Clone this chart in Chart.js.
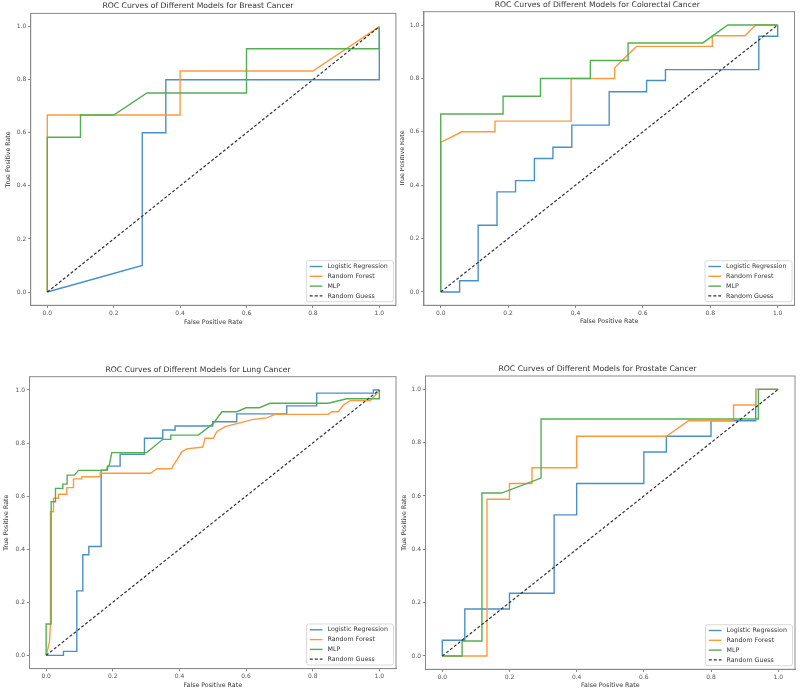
<!DOCTYPE html>
<html><head><meta charset="utf-8">
<script src="https://cdn.jsdelivr.net/npm/chart.js@4.4.1/dist/chart.umd.min.js"></script>
<style>
body{margin:0;background:#fff;}
#wrap{position:relative;width:800px;height:694px;background:#fff;overflow:hidden;}
canvas{position:absolute;}
</style></head><body>
<div id="wrap">
<canvas id="c0" width="400" height="347" style="left:0;top:0"></canvas>
<canvas id="c1" width="400" height="347" style="left:400px;top:0"></canvas>
<canvas id="c2" width="400" height="347" style="left:0;top:347px"></canvas>
<canvas id="c3" width="400" height="347" style="left:400px;top:347px"></canvas>
</div>
<script>
// ---------- data ----------
const tickValues = [0, 0.2, 0.4, 0.6, 0.8, 1.0];
const modelNames = ['Logistic Regression', 'Random Forest', 'MLP', 'Random Guess'];
const guessFpr = [0, 1];
const guessTpr = [0, 1];

// Breast Cancer
const breastLrFpr = [0, 0.286, 0.286, 0.357, 0.357, 1, 1];
const breastLrTpr = [0, 0.1, 0.6, 0.6, 0.8, 0.8, 1];
const breastRfFpr = [0, 0, 0.4, 0.4, 0.8, 1];
const breastRfTpr = [0, 0.667, 0.667, 0.833, 0.833, 1];
const breastMlpFpr = [0, 0, 0.1, 0.1, 0.2, 0.3, 0.6, 0.6, 1, 1];
const breastMlpTpr = [0, 0.583, 0.583, 0.667, 0.667, 0.75, 0.75, 0.917, 0.917, 1];

// Colorectal Cancer
const coloLrFpr = [0, 0.056, 0.056, 0.111, 0.111, 0.167, 0.167, 0.222, 0.222, 0.278, 0.278, 0.333, 0.333, 0.389, 0.389, 0.5, 0.5, 0.611, 0.611, 0.667, 0.667, 0.944, 0.944, 1, 1];
const coloLrTpr = [0, 0, 0.042, 0.042, 0.25, 0.25, 0.375, 0.375, 0.417, 0.417, 0.5, 0.5, 0.542, 0.542, 0.625, 0.625, 0.75, 0.75, 0.792, 0.792, 0.833, 0.833, 0.958, 0.958, 1];
const coloRfFpr = [0, 0, 0.0625, 0.161, 0.161, 0.387, 0.387, 0.516, 0.516, 0.581, 0.806, 0.806, 0.903, 0.935, 1];
const coloRfTpr = [0, 0.56, 0.6, 0.6, 0.64, 0.64, 0.8, 0.8, 0.84, 0.92, 0.92, 0.96, 0.96, 1, 1];
const coloMlpFpr = [0, 0, 0.185, 0.185, 0.296, 0.296, 0.444, 0.444, 0.556, 0.556, 0.778, 0.852, 1];
const coloMlpTpr = [0, 0.667, 0.667, 0.733, 0.733, 0.8, 0.8, 0.867, 0.867, 0.933, 0.933, 1, 1];

// Lung Cancer
const lungLrFpr = [0, 0.052, 0.052, 0.092, 0.092, 0.11, 0.11, 0.128, 0.128, 0.165, 0.165, 0.184, 0.184, 0.222, 0.222, 0.295, 0.295, 0.35, 0.35, 0.387, 0.387, 0.5, 0.5, 0.572, 0.572, 0.722, 0.722, 0.812, 0.812, 0.982, 0.982, 1];
const lungLrTpr = [0, 0, 0.015, 0.015, 0.243, 0.243, 0.379, 0.379, 0.41, 0.41, 0.698, 0.698, 0.713, 0.713, 0.758, 0.758, 0.818, 0.818, 0.849, 0.849, 0.864, 0.864, 0.88, 0.88, 0.91, 0.91, 0.94, 0.94, 0.988, 0.988, 1, 1];
const lungRfFpr = [0, 0.01, 0.013, 0.013, 0.022, 0.022, 0.037, 0.037, 0.062, 0.062, 0.082, 0.082, 0.107, 0.107, 0.162, 0.162, 0.314, 0.332, 0.377, 0.38, 0.392, 0.407, 0.422, 0.47, 0.472, 0.477, 0.502, 0.512, 0.537, 0.622, 0.662, 0.687, 0.847, 0.857, 0.877, 0.892, 0.912, 0.972, 0.985, 1];
const lungRfTpr = [0, 0.05, 0.12, 0.541, 0.541, 0.592, 0.592, 0.607, 0.607, 0.632, 0.632, 0.665, 0.665, 0.673, 0.673, 0.686, 0.686, 0.703, 0.703, 0.713, 0.736, 0.767, 0.778, 0.785, 0.793, 0.818, 0.818, 0.843, 0.862, 0.889, 0.895, 0.908, 0.908, 0.918, 0.918, 0.943, 0.96, 0.96, 0.975, 1];
const lungMlpFpr = [0, 0, 0.015, 0.015, 0.028, 0.028, 0.05, 0.05, 0.063, 0.063, 0.085, 0.097, 0.18, 0.19, 0.197, 0.302, 0.35, 0.374, 0.374, 0.457, 0.502, 0.527, 0.572, 0.6, 0.64, 0.672, 0.847, 0.902, 1, 1];
const lungMlpTpr = [0, 0.118, 0.118, 0.579, 0.579, 0.629, 0.629, 0.645, 0.645, 0.679, 0.679, 0.697, 0.697, 0.72, 0.764, 0.764, 0.814, 0.814, 0.83, 0.83, 0.874, 0.918, 0.918, 0.933, 0.933, 0.95, 0.95, 0.967, 0.967, 1];

// Prostate Cancer
const prosLrFpr = [0, 0, 0.067, 0.067, 0.2, 0.2, 0.333, 0.333, 0.4, 0.4, 0.6, 0.6, 0.667, 0.667, 0.8, 0.8, 0.933, 0.933, 1];
const prosLrTpr = [0, 0.059, 0.059, 0.176, 0.176, 0.235, 0.235, 0.529, 0.529, 0.647, 0.647, 0.765, 0.765, 0.824, 0.824, 0.882, 0.882, 1, 1];
const prosRfFpr = [0, 0.133, 0.133, 0.2, 0.2, 0.267, 0.267, 0.4, 0.4, 0.667, 0.733, 0.867, 0.867, 0.933, 0.933, 1];
const prosRfTpr = [0, 0, 0.588, 0.588, 0.647, 0.647, 0.706, 0.706, 0.824, 0.824, 0.882, 0.882, 0.941, 0.941, 1, 1];
const prosMlpFpr = [0, 0.059, 0.059, 0.118, 0.118, 0.176, 0.294, 0.294, 0.941, 0.941, 1];
const prosMlpTpr = [0, 0, 0.056, 0.056, 0.611, 0.611, 0.667, 0.889, 0.889, 1, 1];

const panelTitles = [
  'ROC Curves of Different Models for Breast Cancer',
  'ROC Curves of Different Models for Colorectal Cancer',
  'ROC Curves of Different Models for Lung Cancer',
  'ROC Curves of Different Models for Prostate Cancer'
];
const panelSeries = [
  [[breastLrFpr, breastLrTpr], [breastRfFpr, breastRfTpr], [breastMlpFpr, breastMlpTpr]],
  [[coloLrFpr, coloLrTpr], [coloRfFpr, coloRfTpr], [coloMlpFpr, coloMlpTpr]],
  [[lungLrFpr, lungLrTpr], [lungRfFpr, lungRfTpr], [lungMlpFpr, lungMlpTpr]],
  [[prosLrFpr, prosLrTpr], [prosRfFpr, prosRfTpr], [prosMlpFpr, prosMlpTpr]]
];

// ---------- layout / style ----------
const FONT = "'DejaVu Sans', 'Liberation Sans', sans-serif";
const COLORS = ['#4a90c8', '#ff9a3c', '#52b052'];
const GUESS_COLOR = '#333333';
const AXIS_COLOR = '#8a8a8a';
const W = 400, H = 347;
const layouts = [
  {cx: 0,   cy: 0,   area: [30.7, 13.4, 395.9, 305.3], titleY: 6,     xTitleY: 322,   yTitleX: 8.3},
  {cx: 400, cy: 0,   area: [423.9, 11.7, 794.5, 305.3], titleY: 5,    xTitleY: 321.7, yTitleX: 402.7},
  {cx: 0,   cy: 347, area: [29.5, 376.7, 396, 668.6],  titleY: 370,   xTitleY: 685,   yTitleX: 6.7},
  {cx: 400, cy: 347, area: [425.5, 376, 795, 669.3],   titleY: 369.3, xTitleY: 685.7, yTitleX: 404}
];

function toPoints(xs, ys) { return xs.map((x, i) => ({x: x, y: ys[i]})); }

const boxPlugin = {
  id: 'axesBox',
  afterDatasetsDraw(chart) {
    const {ctx, chartArea: a} = chart;
    ctx.save();
    ctx.strokeStyle = AXIS_COLOR;
    ctx.lineWidth = 1;
    ctx.strokeRect(a.left, a.top, a.right - a.left, a.bottom - a.top);
    ctx.restore();
  }
};

const legendPlugin = {
  id: 'insideLegend',
  afterDraw(chart) {
    const {ctx, chartArea: a} = chart;
    const w = 87, h = 41;
    const x = a.right - 2.5 - w, y = a.bottom - 3.6 - h;
    ctx.save();
    ctx.beginPath();
    if (ctx.roundRect) ctx.roundRect(x, y, w, h, 2); else ctx.rect(x, y, w, h);
    ctx.fillStyle = 'rgba(255,255,255,0.85)';
    ctx.fill();
    ctx.strokeStyle = '#d0d0d0';
    ctx.lineWidth = 0.8;
    ctx.stroke();
    ctx.font = '6.3px ' + FONT;
    ctx.textBaseline = 'middle';
    chart.data.datasets.forEach((ds, i) => {
      const cy = y + 5.8 + i * 9.8;
      ctx.beginPath();
      ctx.setLineDash(ds.borderDash || []);
      ctx.strokeStyle = ds.borderColor;
      ctx.lineWidth = ds.borderWidth;
      ctx.moveTo(x + 3.3, cy);
      ctx.lineTo(x + 16, cy);
      ctx.stroke();
      ctx.setLineDash([]);
      ctx.fillStyle = '#333';
      ctx.fillText(ds.label, x + 21, cy);
    });
    ctx.restore();
  }
};

function makeChart(idx) {
  const L = layouts[idx];
  const aL = L.area[0] - L.cx, aT = L.area[1] - L.cy, aR = L.area[2] - L.cx, aB = L.area[3] - L.cy;
  const tFont = 7.7, tLH = tFont * 1.2, sFont = 6.3, sLH = sFont * 1.2;
  const tY = L.titleY - L.cy;
  const datasets = panelSeries[idx].map((s, i) => ({
    label: modelNames[i],
    data: toPoints(s[0], s[1]),
    borderColor: COLORS[i],
    backgroundColor: COLORS[i],
    borderWidth: 1.4,
    showLine: true,
    pointRadius: 0,
    tension: 0,
    fill: false,
    order: 4 - i
  }));
  datasets.push({
    label: modelNames[3],
    data: toPoints(guessFpr, guessTpr),
    borderColor: GUESS_COLOR,
    backgroundColor: GUESS_COLOR,
    borderWidth: 1.2,
    borderDash: [3, 2],
    showLine: true,
    pointRadius: 0,
    fill: false,
    order: 1
  });
  const tickOpts = {
    color: '#555', font: {family: FONT, size: 6}, padding: 1.8,
    autoSkip: false, maxRotation: 0,
    callback: v => Number(v).toFixed(1)
  };
  const gridOpts = {display: true, drawOnChartArea: false, drawTicks: true, tickLength: 2.7, color: AXIS_COLOR, tickColor: AXIS_COLOR};
  const setTicks = s => { s.ticks = tickValues.map(v => ({value: v})); };
  return new Chart(document.getElementById('c' + idx), {
    type: 'scatter',
    data: {datasets: datasets},
    options: {
      responsive: false,
      animation: false,
      layout: {padding: {left: 0, top: 0, right: W - aR, bottom: 0}},
      plugins: {
        legend: {display: false},
        tooltip: {enabled: false},
        title: {
          display: true, text: panelTitles[idx], color: '#333',
          font: {family: FONT, size: tFont, weight: 'normal'},
          padding: {top: tY - tLH / 2, bottom: aT - tY - tLH / 2}
        }
      },
      scales: {
        x: {
          type: 'linear', min: -0.05, max: 1.05,
          afterBuildTicks: setTicks,
          afterFit: s => { s.height = H - aB; },
          ticks: tickOpts, grid: gridOpts,
          border: {display: true, color: AXIS_COLOR, width: 1},
          title: {
            display: true, text: 'False Positive Rate', color: '#333',
            font: {family: FONT, size: sFont},
            padding: {top: 0, bottom: H - (L.xTitleY - L.cy) - sLH / 2}
          }
        },
        y: {
          type: 'linear', min: -0.05, max: 1.05,
          afterBuildTicks: setTicks,
          afterFit: s => { s.width = aL; },
          ticks: tickOpts, grid: gridOpts,
          border: {display: true, color: AXIS_COLOR, width: 1},
          title: {
            display: true, text: 'True Positive Rate', color: '#333',
            font: {family: FONT, size: sFont},
            padding: {top: (L.yTitleX - L.cx) - sLH / 2, bottom: 0}
          }
        }
      }
    },
    plugins: [boxPlugin, legendPlugin]
  });
}

[0, 1, 2, 3].forEach(makeChart);
</script>
</body></html>
